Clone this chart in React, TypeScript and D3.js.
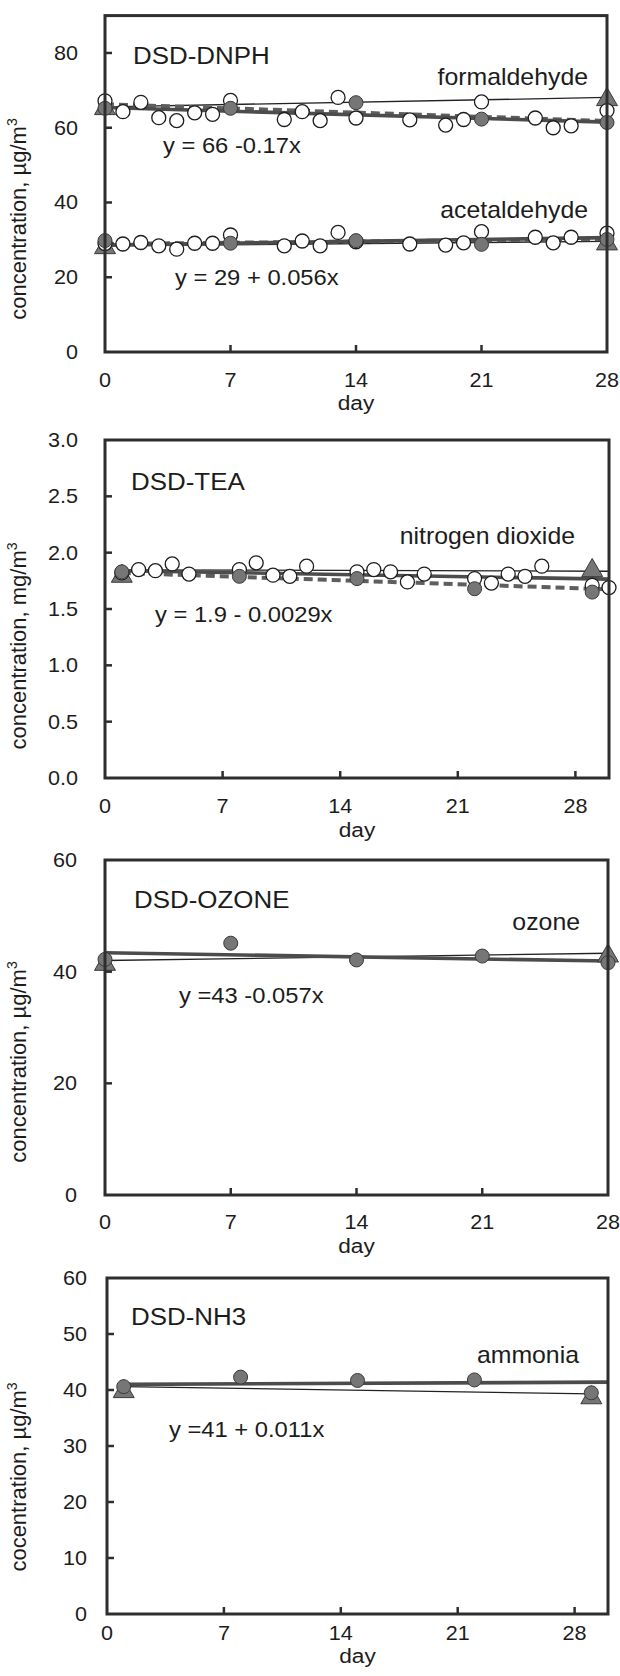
import * as d3 from "d3";

// ---------- DSD-DNPH (formaldehyde / acetaldehyde), µg/m3 ----------
const dnphDays = [0, 1, 2, 3, 4, 5, 6, 7, 10, 11, 12, 13, 14, 17, 19, 20, 21, 24, 25, 26, 28];
const formaldehydeDaily = [67.2, 64.3, 66.8, 62.7, 61.9, 64.0, 63.6, 67.3, 62.2, 64.3, 61.9, 68.1, 62.6, 62.1, 60.7, 62.2, 66.9, 62.6, 60.0, 60.5, 64.6];
const acetaldehydeDaily = [29.0, 28.9, 29.3, 28.4, 27.5, 29.1, 29.1, 31.3, 28.4, 29.7, 28.4, 32.0, 29.5, 28.9, 28.6, 29.2, 32.2, 30.7, 29.2, 30.7, 31.8];
const dnphWeekDays = [0, 7, 14, 21, 28];
const formaldehydeWeekly = [65.2, 65.2, 66.7, 62.3, 61.4];
const acetaldehydeWeekly = [29.8, 29.1, 29.8, 28.8, 30.1];
const dnphRefDays = [0, 28];
const formaldehydeRef = [65.4, 67.8];
const acetaldehydeRef = [28.2, 29.2];
const dnphFitDays = [0, 28];
const formaldehydeFit = [65.4, 61.5];
const formaldehydeDailyFit = [66.3, 61.8];
const formaldehydeRefLine = [65.6, 68.1];
const acetaldehydeFit = [28.6, 30.6];
const acetaldehydeDailyFit = [28.9, 30.2];
const acetaldehydeRefLine = [28.4, 29.6];

// ---------- DSD-TEA (nitrogen dioxide), mg/m3 ----------
const teaDays = [1, 2, 3, 4, 5, 8, 9, 10, 11, 12, 15, 16, 17, 18, 19, 22, 23, 24, 25, 26, 29, 30];
const no2Daily = [1.82, 1.85, 1.84, 1.9, 1.81, 1.85, 1.91, 1.8, 1.79, 1.88, 1.83, 1.85, 1.83, 1.74, 1.81, 1.77, 1.73, 1.81, 1.79, 1.88, 1.71, 1.69];
const teaWeekDays = [1, 8, 15, 22, 29];
const no2Weekly = [1.83, 1.79, 1.77, 1.68, 1.65];
const teaRefDays = [1, 29];
const no2Ref = [1.8, 1.85];
const teaFitDays = [1, 30];
const no2Fit = [1.84, 1.765];
const no2DailyFit = [1.82, 1.675];
const no2RefLine = [1.848, 1.835];

// ---------- DSD-OZONE, µg/m3 ----------
const ozoneWeekDays = [0, 7, 14, 21, 28];
const ozoneWeekly = [42.2, 45.1, 42.1, 42.8, 41.6];
const ozoneRefDays = [0, 28];
const ozoneRef = [41.5, 43.0];
const ozoneFitDays = [0, 28];
const ozoneFit = [43.4, 41.9];
const ozoneRefLine = [42.0, 43.3];

// ---------- DSD-NH3 (ammonia), µg/m3 ----------
const nh3WeekDays = [1, 8, 15, 22, 29];
const ammoniaWeekly = [40.6, 42.3, 41.7, 41.8, 39.5];
const nh3RefDays = [1, 29];
const ammoniaRef = [39.9, 38.8];
const nh3FitDays = [1, 30];
const ammoniaFit = [41.0, 41.4];
const nh3RefLineDays = [1, 29];
const ammoniaRefLine = [40.6, 39.3];

// tick labels
const dayTicks = [0, 7, 14, 21, 28];
const dnphTicks = [0, 20, 40, 60, 80];
const teaTicks = [0, 0.5, 1.0, 1.5, 2.0, 2.5, 3.0];
const ozoneTicks = [0, 20, 40, 60];
const nh3Ticks = [0, 10, 20, 30, 40, 50, 60];

const FONT = "'Liberation Sans', Arial, Helvetica, sans-serif";
const INK = "#1c1c1c";
const GREY = "#767676";

const zip = (xs: number[], ys: number[]) => xs.map((d, i) => [d, ys[i]] as [number, number]);

type LineDef = { pts: [number, number][]; kind: "thin" | "solid" | "dashed" };
type Label = { text: string; x: number; y: number; anchor?: string };

type PanelDef = {
  left: number; right: number; top: number; bottom: number;
  xMax: number; yMax: number;
  yTicks: number[]; yFmt: (d: number) => string; yLabelX: number;
  xLabelY: number; dayY: number;
  yTitle: string; yTitleY: number;
  title: Label; names: Label[]; eqs: Label[];
  lines: LineDef[];
  open: [number, number][];
  filled: [number, number][];
  tri: [number, number][];
};

const panels: PanelDef[] = [
  {
    left: 105, right: 607, top: 15.6, bottom: 352, xMax: 28, yMax: 90,
    yTicks: dnphTicks, yFmt: d3.format("d"), yLabelX: 78,
    xLabelY: 387, dayY: 410,
    yTitle: "concentration, µg/m", yTitleY: 219,
    title: { text: "DSD-DNPH", x: 133, y: 64 },
    names: [
      { text: "formaldehyde", x: 588, y: 85, anchor: "end" },
      { text: "acetaldehyde", x: 588, y: 218, anchor: "end" },
    ],
    eqs: [
      { text: "y =  66 -0.17x", x: 163, y: 153 },
      { text: "y = 29 + 0.056x", x: 175, y: 285 },
    ],
    lines: [
      { pts: zip(dnphFitDays, formaldehydeRefLine), kind: "thin" },
      { pts: zip(dnphFitDays, acetaldehydeRefLine), kind: "thin" },
      { pts: zip(dnphFitDays, formaldehydeDailyFit), kind: "dashed" },
      { pts: zip(dnphFitDays, acetaldehydeDailyFit), kind: "dashed" },
      { pts: zip(dnphFitDays, formaldehydeFit), kind: "solid" },
      { pts: zip(dnphFitDays, acetaldehydeFit), kind: "solid" },
    ],
    open: [...zip(dnphDays, formaldehydeDaily), ...zip(dnphDays, acetaldehydeDaily)],
    filled: [...zip(dnphWeekDays, formaldehydeWeekly), ...zip(dnphWeekDays, acetaldehydeWeekly)],
    tri: [...zip(dnphRefDays, formaldehydeRef), ...zip(dnphRefDays, acetaldehydeRef)],
  },
  {
    left: 105, right: 609, top: 440, bottom: 778, xMax: 30, yMax: 3,
    yTicks: teaTicks, yFmt: d3.format(".1f"), yLabelX: 78,
    xLabelY: 813, dayY: 837,
    yTitle: "concentration, mg/m", yTitleY: 646,
    title: { text: "DSD-TEA", x: 131, y: 490 },
    names: [{ text: "nitrogen dioxide", x: 575, y: 544, anchor: "end" }],
    eqs: [{ text: "y = 1.9 - 0.0029x", x: 155, y: 622 }],
    lines: [
      { pts: zip(teaFitDays, no2RefLine), kind: "thin" },
      { pts: zip(teaFitDays, no2DailyFit), kind: "dashed" },
      { pts: zip(teaFitDays, no2Fit), kind: "solid" },
    ],
    open: zip(teaDays, no2Daily),
    filled: zip(teaWeekDays, no2Weekly),
    tri: zip(teaRefDays, no2Ref),
  },
  {
    left: 105, right: 608, top: 860, bottom: 1195, xMax: 28, yMax: 60,
    yTicks: ozoneTicks, yFmt: d3.format("d"), yLabelX: 77,
    xLabelY: 1229, dayY: 1253,
    yTitle: "concentration, µg/m", yTitleY: 1062,
    title: { text: "DSD-OZONE", x: 134, y: 908 },
    names: [{ text: "ozone", x: 580, y: 930, anchor: "end" }],
    eqs: [{ text: "y =43 -0.057x", x: 179, y: 1003 }],
    lines: [
      { pts: zip(ozoneFitDays, ozoneRefLine), kind: "thin" },
      { pts: zip(ozoneFitDays, ozoneFit), kind: "solid" },
    ],
    open: [],
    filled: zip(ozoneWeekDays, ozoneWeekly),
    tri: zip(ozoneRefDays, ozoneRef),
  },
  {
    left: 107, right: 608, top: 1278, bottom: 1614, xMax: 30, yMax: 60,
    yTicks: nh3Ticks, yFmt: d3.format("d"), yLabelX: 87,
    xLabelY: 1640, dayY: 1663,
    yTitle: "cocentration, µg/m", yTitleY: 1477,
    title: { text: "DSD-NH3", x: 131, y: 1325 },
    names: [{ text: "ammonia", x: 579, y: 1363, anchor: "end" }],
    eqs: [{ text: "y =41 + 0.011x", x: 169, y: 1437 }],
    lines: [
      { pts: zip(nh3RefLineDays, ammoniaRefLine), kind: "thin" },
      { pts: zip(nh3FitDays, ammoniaFit), kind: "solid" },
    ],
    open: [],
    filled: zip(nh3WeekDays, ammoniaWeekly),
    tri: zip(nh3RefDays, ammoniaRef),
  },
];

const SX = 1.08;

const Txt = ({ x, y, size, anchor = "start", children }: any) => (
  <text
    transform={`translate(${x},${y}) scale(${SX},1)`}
    fontSize={size}
    textAnchor={anchor}
    fill={INK}
  >
    {children}
  </text>
);

const triPath = d3.symbol(d3.symbolTriangle, 190)() as string;

const Panel = ({ p }: { p: PanelDef }) => {
  const x = d3.scaleLinear().domain([0, p.xMax]).range([p.left, p.right]);
  const y = d3.scaleLinear().domain([0, p.yMax]).range([p.bottom, p.top]);
  const line = d3
    .line<[number, number]>()
    .x((d) => x(d[0]))
    .y((d) => y(d[1]));

  return (
    <g>
      {/* regression / reference lines */}
      {p.lines.map((l, i) => (
        <path
          key={i}
          d={line(l.pts) as string}
          fill="none"
          stroke={l.kind === "thin" ? "#222" : l.kind === "dashed" ? "#5e5e5e" : "#4c4c4c"}
          strokeWidth={l.kind === "thin" ? 1.3 : l.kind === "dashed" ? 4 : 3.6}
          strokeDasharray={l.kind === "dashed" ? "9,5" : undefined}
        />
      ))}

      {p.tri.map((d, i) => (
        <path
          key={i}
          d={triPath}
          transform={`translate(${x(d[0])},${y(d[1]) + 1})`}
          fill={GREY}
          stroke="#3a3a3a"
          strokeWidth={1}
        />
      ))}
      {p.open.map((d, i) => (
        <circle key={i} cx={x(d[0])} cy={y(d[1])} r={7} fill="#fff" stroke={INK} strokeWidth={1.3} />
      ))}
      {p.filled.map((d, i) => (
        <circle key={i} cx={x(d[0])} cy={y(d[1])} r={7} fill={GREY} stroke="#3a3a3a" strokeWidth={1} />
      ))}

      {/* frame */}
      <rect
        x={p.left}
        y={p.top}
        width={p.right - p.left}
        height={p.bottom - p.top}
        fill="none"
        stroke="#2e2e2e"
        strokeWidth={3}
      />

      {/* inward ticks */}
      {p.yTicks
        .filter((t) => t > 0 && t < p.yMax)
        .map((t) => (
          <line key={t} x1={p.left} x2={p.left + 7} y1={y(t)} y2={y(t)} stroke="#2e2e2e" strokeWidth={2.5} />
        ))}
      {dayTicks
        .filter((t) => t > 0 && x(t) < p.right - 3)
        .map((t) => (
          <line key={t} x1={x(t)} x2={x(t)} y1={p.bottom} y2={p.bottom - 7} stroke="#2e2e2e" strokeWidth={2.5} />
        ))}

      {/* tick labels */}
      {p.yTicks.map((t) => (
        <Txt key={t} x={p.yLabelX} y={y(t) + 7} size={20} anchor="end">
          {p.yFmt(t)}
        </Txt>
      ))}
      {dayTicks.map((t) => (
        <Txt key={t} x={x(t)} y={p.xLabelY} size={20} anchor="middle">
          {t}
        </Txt>
      ))}
      <Txt x={(p.left + p.right) / 2} y={p.dayY} size={21} anchor="middle">
        day
      </Txt>

      {/* axis title */}
      <text
        transform={`translate(26,${p.yTitleY}) rotate(-90)`}
        fontSize={22}
        textAnchor="middle"
        fill={INK}
      >
        {p.yTitle}
        <tspan fontSize={14} dy={-9}>
          3
        </tspan>
      </text>

      <Txt x={p.title.x} y={p.title.y} size={24}>
        {p.title.text}
      </Txt>
      {p.names.map((n, i) => (
        <Txt key={i} x={n.x} y={n.y} size={23} anchor={n.anchor}>
          {n.text}
        </Txt>
      ))}
      {p.eqs.map((n, i) => (
        <Txt key={i} x={n.x} y={n.y} size={22}>
          {n.text}
        </Txt>
      ))}
    </g>
  );
};

export default function App() {
  return (
    <svg
      width={620}
      height={1676}
      viewBox="0 0 620 1676"
      style={{ position: "absolute", left: 0, top: 0, background: "#fff", fontFamily: FONT }}
    >
      <rect width={620} height={1676} fill="#fff" />
      {panels.map((p, i) => (
        <Panel key={i} p={p} />
      ))}
    </svg>
  );
}
